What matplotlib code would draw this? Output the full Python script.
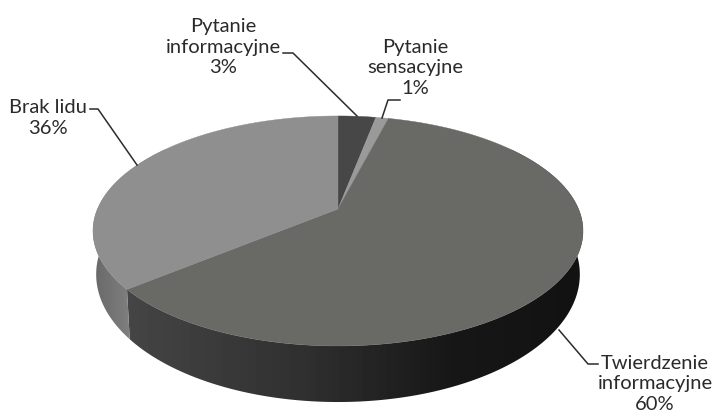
import numpy as np
import matplotlib
matplotlib.use('Agg')
import matplotlib.pyplot as plt
from matplotlib.patches import Polygon

labels = ['Pytanie\ninformacyjne\n3%', 'Pytanie\nsensacyjne\n1%', 'Twierdzenie\ninformacyjne\n60%', 'Brak lidu\n36%']
values = [3, 1, 60, 36]
top_colors = ['#474747', '#9a9a9a', '#696965', '#8f8f8f']

# pie geometry in pixels, perspective squash of a unit disc
cx, cy = 338, 209
A, B, k = 240.5, 110.8, 0.191


def project(theta):
    # theta clockwise from the top
    u, v = np.sin(theta), np.cos(theta)
    return cx + A*u/(1 + k*v), cy - B*v/(1 + k*v)


def project_low(theta):
    x, y = project(theta)
    return cx + 0.987*(x - cx), cy + 41 + 1.11*(y - cy)


fig = plt.figure(figsize=(7.13, 4.16), dpi=100)
ax = fig.add_axes([0, 0, 1, 1])

edges = np.cumsum([0] + values) / sum(values) * 2*np.pi
xs = np.arange(85, 595)
shade = {2: np.interp(xs, [130, 300, 450, 585], [0.27, 0.19, 0.09, 0.07]),
         3: np.interp(xs, [90, 130], [0.40, 0.50])}

# side wall with shading across it, its ends stay hidden under the top
for i in shade:
    t = np.linspace(edges[i], edges[i+1], 300)
    t = t[np.cos(t) < 0.6]
    x0, y0 = project(t)
    x1, y1 = project_low(t[::-1])
    wall = Polygon(np.c_[np.r_[x0, x1], np.r_[y0, y1]], transform=ax.transData, fc='none', ec='none')
    ax.add_patch(wall)
    im = ax.imshow(shade[i][None, :], extent=(85, 595, 416, 0), aspect='auto', cmap='gray',
                   vmin=0, vmax=1, zorder=1)
    im.set_clip_path(wall)

ax.set_xlim(0, 713)
ax.set_ylim(416, 0)
ax.axis('off')

# top of the pie
for i in range(len(values)):
    t = np.linspace(edges[i], edges[i+1], 200)
    x, y = project(t)
    ax.fill(np.r_[cx, x], np.r_[cy, y], color=top_colors[i], lw=0.3, zorder=2)

leaders = [([283, 293, 357], [53, 53, 116]),
           ([400, 388, 382], [100, 100, 118]),
           ([598, 588, 559], [364, 364, 330]),
           ([90, 98, 137], [109, 109, 165])]
for lx, ly in leaders:
    ax.plot(lx, ly, color='#2b2b2b', lw=1.1, zorder=3)

label_pos = [(223, 47), (415, 68), (655, 384), (48, 118)]
for s, (x, y) in zip(labels, label_pos):
    ax.text(x, y, s, ha='center', va='center', fontsize=14.5, family='Lato',
            color='#2a2a2a', linespacing=1.27, zorder=4)

fig.savefig('out.png', dpi=100)
